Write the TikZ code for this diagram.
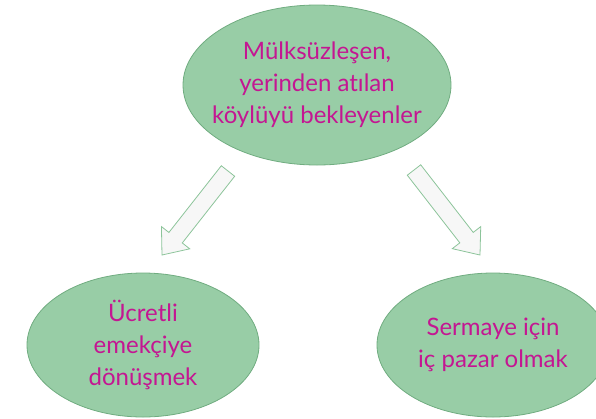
\documentclass[tikz,border=0pt]{standalone}
\usepackage{fontspec}
\setmainfont{Lato}[Ligatures=NoCommon]
\usepackage{tikz}
\usetikzlibrary{calc}
\usetikzlibrary{shapes.geometric}

\definecolor{leaf}{RGB}{152,205,166}
\definecolor{leafline}{RGB}{112,172,128}
\definecolor{plum}{RGB}{196,22,146}
\definecolor{arrowline}{RGB}{140,196,154}

\tikzset{
  blob/.style={ellipse, fill=leaf, draw=leafline, line width=0.8pt, inner sep=0pt,
    text=plum, align=center, font=\fontsize{24}{32}\selectfont},
  bigarrow/.style={fill=white!97!black, draw=arrowline, line width=0.8pt, line join=miter}
}

% block arrow from tail #1 to tip #2
\newcommand{\blockarrow}[2]{%
  \coordinate (hb) at ($(#2)!22pt!(#1)$);
  \draw[bigarrow] ($(#1)!8.5pt!90:(#2)$) -- ($(hb)!8.5pt!90:(#2)$)
    -- ($(hb)!18pt!90:(#2)$) -- (#2) -- ($(hb)!18pt!-90:(#2)$)
    -- ($(hb)!8.5pt!-90:(#2)$) -- ($(#1)!8.5pt!-90:(#2)$) -- cycle;
}

\begin{document}
\begin{tikzpicture}[x=1pt,y=-1pt]
\useasboundingbox (0,0) rectangle (596,418);
\coordinate (t) at (317,85);
\coordinate (l) at (143,345);
\coordinate (r) at (493,345);
\coordinate (ltail) at (228,171);
\coordinate (ltip) at (162,255);
\coordinate (rtail) at (414,170);
\coordinate (rtip) at (480,255);
% draws ellipses
\node[blob, inner xsep=-14pt, minimum width=268pt, minimum height=160pt] (top) at (t)
  {Mülksüzleşen,\\yerinden atılan\\köylüyü bekleyenler};
\node[blob, minimum width=232pt, minimum height=144pt] (left) at (l)
  {Ücretli\\emekçiye\\dönüşmek};
\node[blob, minimum width=232pt, minimum height=144pt] (right) at (r)
  {Sermaye için\\iç pazar olmak};
% draws arrows
\blockarrow{ltail}{ltip}
\blockarrow{rtail}{rtip}
\end{tikzpicture}
\end{document}
